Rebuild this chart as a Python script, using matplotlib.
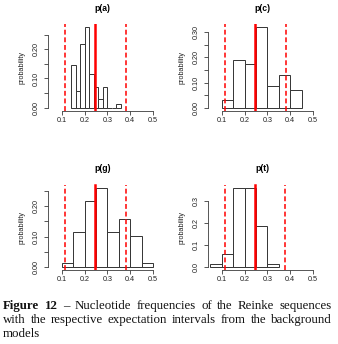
import matplotlib
matplotlib.use('Agg')
import matplotlib.pyplot as plt
from matplotlib.font_manager import FontProperties
import numpy as np

# histogram bin edges and relative frequencies
a_edges = [0.14, 0.16, 0.18, 0.20, 0.22, 0.24, 0.26, 0.28, 0.30, 0.32, 0.34, 0.36]
a_freq = [0.145, 0.058, 0.217, 0.275, 0.116, 0.072, 0.029, 0.072, 0.0, 0.0, 0.014]

c_edges = [0.10, 0.15, 0.20, 0.25, 0.30, 0.35, 0.40, 0.45]
c_freq = [0.029, 0.188, 0.174, 0.319, 0.087, 0.130, 0.072]

g_edges = [0.10, 0.15, 0.20, 0.25, 0.30, 0.35, 0.40, 0.45, 0.50]
g_freq = [0.014, 0.116, 0.217, 0.261, 0.116, 0.159, 0.101, 0.014]

t_edges = [0.05, 0.10, 0.15, 0.20, 0.25, 0.30, 0.35]
t_freq = [0.014, 0.058, 0.362, 0.362, 0.188, 0.014]

# expected value and expectation interval (lower, upper) from background models
a_expect = [0.246, 0.114, 0.382]
c_expect = [0.247, 0.113, 0.380]
g_expect = [0.247, 0.114, 0.382]
t_expect = [0.245, 0.112, 0.379]

x_ticks = [0.1, 0.2, 0.3, 0.4, 0.5]
x_labels = ['0.1', '0.2', '0.3', '0.4', '0.5']

a_yticks = [0.0, 0.05, 0.10, 0.15, 0.20, 0.25]
a_ylabels = ['0.00', '', '0.10', '', '0.20', '']
c_yticks = [0.0, 0.05, 0.10, 0.15, 0.20, 0.25, 0.30]
c_ylabels = ['0.00', '', '0.10', '', '0.20', '', '0.30']
g_yticks = [0.0, 0.05, 0.10, 0.15, 0.20, 0.25]
g_ylabels = ['0.00', '', '0.10', '', '0.20', '']
t_yticks = [0.0, 0.1, 0.2, 0.3]
t_ylabels = ['0.0', '0.1', '0.2', '0.3']

caption_lines = [
    [('Figure', 'bold'), ('12', 'bold'), ('\u2013', 'normal'), ('Nucleotide', 'normal'),
     ('frequencies', 'normal'), ('of', 'normal'), ('the', 'normal'), ('Reinke', 'normal'),
     ('sequences', 'normal')],
    [(w, 'normal') for w in 'with the respective expectation intervals from the background'.split()],
    [('models', 'normal')],
]

W, H = 338, 344
plt.rcParams['font.family'] = ['Liberation Sans', 'DejaVu Sans']
AX_COL = '#3a3a3a'
CAP_FONT = 'Liberation Serif'
CAP_SIZE = 9.3


def px_rect(left, top, right, bottom):
    return [left / W, 1 - bottom / H, (right - left) / W, (bottom - top) / H]


def draw_panel(fig, rect, title, edges, freq, expect, yticks, ylabels):
    ax = fig.add_axes(rect)
    edges = np.array(edges)
    ax.bar(edges[:-1], freq, width=np.diff(edges), align='edge',
           facecolor='white', edgecolor='#333333', linewidth=0.7)
    mean, lo, hi = expect
    ax.axvline(mean, color='red', lw=1.8)
    for v in (lo, hi):
        ax.axvline(v, color='red', lw=1.1, linestyle=(0, (3.2, 1.8)))

    top = max(freq)
    ax.set_xlim(0.037, 0.518)
    ax.set_ylim(-0.04 * top, 1.04 * top)

    for s in ('top', 'right'):
        ax.spines[s].set_visible(False)
    for s in ('left', 'bottom'):
        ax.spines[s].set_color(AX_COL)
        ax.spines[s].set_linewidth(0.6)
    ax.spines['left'].set_bounds(yticks[0], yticks[-1])
    ax.spines['bottom'].set_bounds(x_ticks[0], x_ticks[-1])

    ax.set_xticks(x_ticks)
    ax.set_xticklabels(x_labels)
    ax.set_yticks(yticks)
    ax.set_yticklabels(ylabels, rotation=90, va='center')
    ax.tick_params(axis='both', length=3, width=0.6, color=AX_COL,
                   labelsize=5.2, labelcolor='#222222')
    ax.tick_params(axis='x', pad=1)
    ax.tick_params(axis='y', pad=2.5)

    ax.set_title(title, fontsize=6.2, fontweight='bold', pad=9.5)
    ax.set_ylabel('probability', fontsize=5.2, color='#222222')
    ax.yaxis.set_label_coords(-0.2, 0.5)
    return ax


def justify_line(fig, tokens, x0, x1, y, stretch=True):
    renderer = fig.canvas.get_renderer()
    texts = []
    for word, weight in tokens:
        fp = FontProperties(family=CAP_FONT, size=CAP_SIZE, weight=weight)
        t = fig.text(0, 1 - y / H, word, fontproperties=fp,
                     va='baseline', ha='left', color='#111111')
        texts.append(t)
    widths = [t.get_window_extent(renderer).width for t in texts]
    if stretch and len(texts) > 1:
        gap = (x1 - x0 - sum(widths)) / (len(texts) - 1)
    else:
        gap = 3
    x = x0
    for t, w in zip(texts, widths):
        t.set_x(x / W)
        x += w + gap


fig = plt.figure(figsize=(W / 100, H / 100), dpi=100)

draw_panel(fig, px_rect(47.5, 24, 157, 111), 'p(a)', a_edges, a_freq, a_expect, a_yticks, a_ylabels)
draw_panel(fig, px_rect(207.5, 24, 317, 111), 'p(c)', c_edges, c_freq, c_expect, c_yticks, c_ylabels)
draw_panel(fig, px_rect(47.5, 184.5, 157, 270), 'p(g)', g_edges, g_freq, g_expect, g_yticks, g_ylabels)
draw_panel(fig, px_rect(207.5, 184.5, 317, 270), 'p(t)', t_edges, t_freq, t_expect, t_yticks, t_ylabels)

fig.canvas.draw()
justify_line(fig, caption_lines[0], 3, 332, 309)
justify_line(fig, caption_lines[1], 3, 332, 323)
justify_line(fig, caption_lines[2], 3, 332, 337, stretch=False)

fig.savefig('out.png', dpi=100)
